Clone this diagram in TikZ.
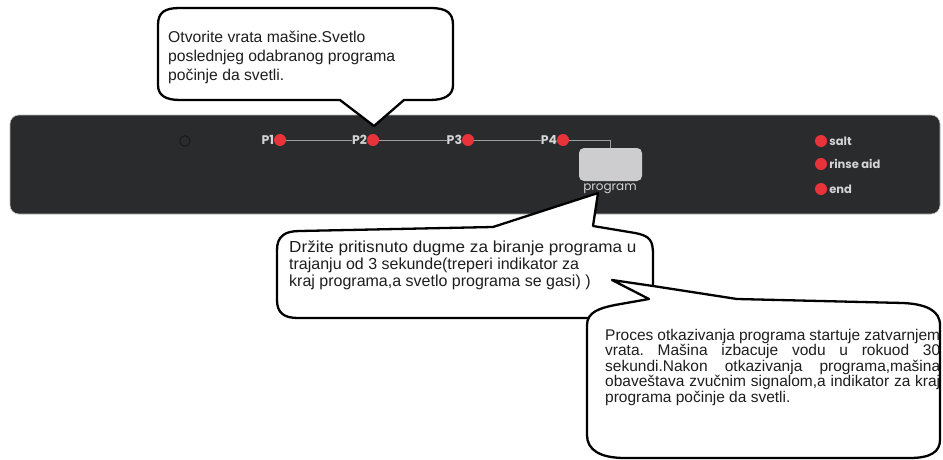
\documentclass[tikz,border=0pt]{standalone}
\usepackage{fontspec}
\setmainfont{Liberation Sans}
\newfontfamily\panelfont{Poppins}
\definecolor{paneldark}{HTML}{2A2B2D}
\definecolor{paneledge}{HTML}{B8B8B8}
\definecolor{ledred}{HTML}{E8333A}
\definecolor{labelgray}{HTML}{D4D4D4}
\definecolor{wiregray}{HTML}{A0A0A0}
\definecolor{btngray}{HTML}{CDCDCF}
\definecolor{txt}{HTML}{1E1E1E}
\begin{document}
\frenchspacing
\begin{tikzpicture}[x=1pt,y=-1pt,
  callout/.style={draw=black, fill=white, line width=2.3pt, line join=round},
  led/.style={circle, fill=ledred, inner sep=0pt, minimum size=12pt},
  plabel/.style={font=\panelfont\bfseries\fontsize{12.5}{12.5}\selectfont, text=labelgray, inner sep=0pt},
  slabel/.style={font=\panelfont\bfseries\fontsize{11.5}{11.5}\selectfont, text=labelgray, inner sep=0pt},
  wire/.style={draw=wiregray, line width=0.9pt},
  ctext/.style={inner sep=0pt, anchor=base west, text=txt}
]
\useasboundingbox (0,0) rectangle (943,460);
\fill[white] (0,0) rectangle (943,460);

% panel
\draw[fill=paneldark, draw=paneledge, line width=0.6pt, rounded corners=9pt] (10,115) rectangle (940,214);

% power indicator
\node[circle, draw=black!90, line width=1pt, inner sep=0pt, minimum size=10.5pt] (pwr) at (185,141) {};

% program leds
\node[led] (d1) at (280,140) {};
\node[led] (d2) at (373,140) {};
\node[led] (d3) at (468,140) {};
\node[led] (d4) at (563,140) {};
\node[plabel, anchor=east] (l1) at ([xshift=0.5pt]d1.west) {P1};
\node[plabel, anchor=east] (l2) at ([xshift=0.5pt]d2.west) {P2};
\node[plabel, anchor=east] (l3) at ([xshift=0.5pt]d3.west) {P3};
\node[plabel, anchor=east] (l4) at ([xshift=0.5pt]d4.west) {P4};

% button
\node[fill=btngray, rounded corners=5pt, minimum width=63pt, minimum height=33pt, inner sep=0pt] (btn) at (610.5,164.5) {};
\node[inner sep=0pt, text=labelgray, font=\panelfont\fontsize{12}{12}\selectfont] (prg) at (610,189) {program};

\draw[wire] (d1.east) -- (l2.west);
\draw[wire] (d2.east) -- (l3.west);
\draw[wire] (d3.east) -- (l4.west);
\draw[wire] (d4.east) -| (btn.north);

% status leds
\node[led] (ds) at (821,141) {};
\node[led] (dr) at (821,164) {};
\node[led] (de) at (821,189) {};
\node[slabel, anchor=west] (ls) at ([xshift=2pt]ds.east) {salt};
\node[slabel, anchor=west] (lr) at ([xshift=2pt]dr.east) {rinse aid};
\node[slabel, anchor=west] (le) at ([xshift=2pt]de.east) {end};

% top callout
\draw[callout] (158,25) .. controls (158,12) and (165,8) .. (180,8) -- (430,8)
  .. controls (447,8) and (453,13) .. (453,25) -- (453,85)
  .. controls (453,95) and (445,100) .. (430,100) -- (404,100) -- (374,126) -- (340,100)
  -- (180,100) .. controls (165,100) and (158,95) .. (158,85) -- cycle;
\node[ctext] (t1) at (168,43) {\parbox[t]{280pt}{\fontsize{15.7}{19}\selectfont
Otvorite vrata mašine.Svetlo\\
poslednjeg odabranog programa\\
počinje da svetli.}};

% middle callout
\draw[callout] (277,250) .. controls (277,236) and (285,231) .. (300,231) -- (493,227)
  -- (598,193) -- (593,226) -- (635,233) .. controls (650,236) and (653,240) .. (653,255)
  -- (653,300) .. controls (653,314) and (645,318) .. (630,318) -- (298,318)
  .. controls (284,318) and (277,313) .. (277,300) -- cycle;
\node[ctext] (t2) at (289,252) {\parbox[t]{360pt}{\fontsize{16}{17}\selectfont
\scalebox{1.07}[1]{Držite pritisnuto dugme za biranje programa u}\\
trajanju od 3 sekunde(treperi indikator za\\
kraj programa,a svetlo programa se gasi) )}};

% bottom right callout
\draw[callout] (612,280) -- (653,286) -- (737,299) -- (903,303)
  .. controls (925,304) and (940,310) .. (940,325) -- (940,440)
  .. controls (940,452) and (930,458) .. (910,458) -- (625,458)
  .. controls (600,458) and (587,450) .. (587,435) -- (587,325)
  .. controls (587,312) and (600,308) .. (615,305) -- (649,299) -- cycle;
\node[ctext] (t3) at (605,340) {\parbox[t]{335pt}{\fontsize{15.5}{15.5}\selectfont
\makebox[335pt][s]{Proces otkazivanja programa startuje zatvarnjem}\\
\makebox[335pt][s]{vrata. Mašina izbacuje vodu u rokuod 30}\\
\makebox[335pt][s]{sekundi.Nakon otkazivanja programa,mašina}\\
\makebox[335pt][s]{obaveštava zvučnim signalom,a indikator za kraj}\\
programa počinje da svetli.}};
\end{tikzpicture}
\end{document}
